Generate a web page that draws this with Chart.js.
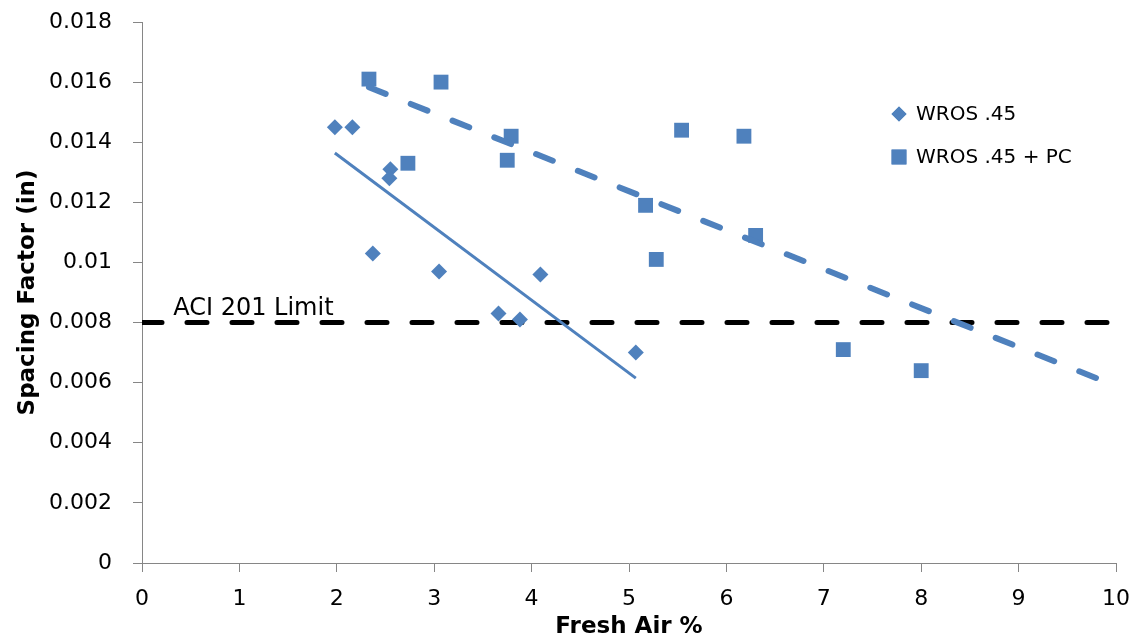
<!DOCTYPE html>
<html>
<head>
<meta charset="utf-8">
<script src="https://cdn.jsdelivr.net/npm/chart.js@4"></script>
<style>
  html, body { margin: 0; padding: 0; background: #fff; }
  #chart { display: block; }
</style>
</head>
<body>
<canvas id="chart" width="1136" height="641"></canvas>
<script>
// данные
const wrosX = [1.98, 2.16, 2.55, 2.54, 2.37, 3.05, 4.09, 3.66, 3.88, 5.07];
const wrosY = [0.0145, 0.0145, 0.0131, 0.0128, 0.0103, 0.0097, 0.0096, 0.0083, 0.0081, 0.0070];

const wrosPcX = [2.33, 3.07, 3.79, 3.75, 2.73, 5.54, 6.18, 5.17, 6.30, 5.28, 7.20, 8.00];
const wrosPcY = [0.0161, 0.0160, 0.0142, 0.0134, 0.0133, 0.0144, 0.0142, 0.0119, 0.0109, 0.0101, 0.0071, 0.0064];

// линии тренда (концы)
const wrosTrendX = [1.98, 5.07];
const wrosTrendY = [0.01364, 0.00615];
const wrosPcTrendX = [2.33, 10];
const wrosPcTrendY = [0.01583, 0.00589];

// предел ACI 201
const limitX = [0, 10];
const limitY = [0.008, 0.008];
const limitLabel = 'ACI 201 Limit';

const seriesNames = ['WROS .45', 'WROS .45 + PC'];
const xTicks = [0, 1, 2, 3, 4, 5, 6, 7, 8, 9, 10];
const yTickLabels = ['0', '0.002', '0.004', '0.006', '0.008', '0.01', '0.012', '0.014', '0.016', '0.018'];

const blue = '#4F81BD';
const axisColor = '#868686';
const fontFamily = '"DejaVu Sans", sans-serif';

const toPoints = (xs, ys) => xs.map((x, i) => ({ x, y: ys[i] }));

// подпись линии предела
const limitLabelPlugin = {
  id: 'limitLabel',
  afterDatasetsDraw(chart) {
    const { ctx, scales } = chart;
    ctx.save();
    ctx.font = `24px ${fontFamily}`;
    ctx.fillStyle = '#000';
    ctx.textBaseline = 'alphabetic';
    ctx.fillText(limitLabel, scales.x.getPixelForValue(0.32), scales.y.getPixelForValue(limitY[0]) - 8);
    ctx.restore();
  },
};

// легенда внутри области графика
const legendPlugin = {
  id: 'innerLegend',
  afterDraw(chart) {
    const { ctx } = chart;
    const styles = ['rectRot', 'rect'];
    const radii = [7.5, 10.5];
    ctx.save();
    ctx.font = `20px ${fontFamily}`;
    ctx.textBaseline = 'middle';
    seriesNames.forEach((name, i) => {
      const y = 114 + i * 43;
      ctx.fillStyle = blue;
      ctx.strokeStyle = blue;
      Chart.helpers.drawPoint(ctx, { pointStyle: styles[i], radius: radii[i], borderWidth: 0 }, 899, y);
      ctx.fill();
      ctx.fillStyle = '#000';
      ctx.fillText(name, 916, y + 1);
    });
    ctx.restore();
  },
};

new Chart(document.getElementById('chart'), {
  type: 'scatter',
  data: {
    datasets: [
      {
        label: seriesNames[0],
        data: toPoints(wrosX, wrosY),
        pointStyle: 'rectRot',
        pointRadius: 8,
        backgroundColor: blue,
        borderColor: blue,
        borderWidth: 0,
        order: 1,
      },
      {
        label: seriesNames[1],
        data: toPoints(wrosPcX, wrosPcY),
        pointStyle: 'rect',
        pointRadius: 10.5,
        backgroundColor: blue,
        borderColor: blue,
        borderWidth: 0,
        order: 2,
      },
      {
        label: 'trend1',
        data: toPoints(wrosTrendX, wrosTrendY),
        showLine: true,
        pointRadius: 0,
        borderColor: blue,
        borderWidth: 3,
        order: 3,
      },
      {
        label: 'trend2',
        data: toPoints(wrosPcTrendX, wrosPcTrendY),
        showLine: true,
        pointRadius: 0,
        borderColor: blue,
        borderWidth: 6,
        borderDash: [18, 27],
        borderCapStyle: 'round',
        order: 0,
      },
      {
        label: 'limit',
        data: toPoints(limitX, limitY),
        showLine: true,
        pointRadius: 0,
        borderColor: '#000',
        borderWidth: 5,
        borderDash: [20, 25],
        borderCapStyle: 'round',
        order: 4,
      },
    ],
  },
  options: {
    responsive: false,
    animation: false,
    layout: { padding: { top: 22, right: 20, left: 0, bottom: 0 } },
    plugins: {
      legend: { display: false },
      tooltip: { enabled: false },
    },
    scales: {
      x: {
        type: 'linear',
        min: 0,
        max: 10,
        afterFit: (scale) => {
          scale.height = 78;
          scale.paddingLeft = 0;
          scale.paddingRight = 0;
        },
        afterBuildTicks: (scale) => { scale.ticks = xTicks.map((v) => ({ value: v })); },
        border: { color: axisColor, width: 1 },
        grid: { drawOnChartArea: false, color: axisColor, tickLength: 9 },
        ticks: { color: '#000', padding: 14, font: { family: fontFamily, size: 22 } },
        title: {
          display: true,
          text: 'Fresh Air %',
          color: '#000',
          padding: { top: 0, bottom: 0 },
          font: { family: fontFamily, size: 23, weight: 'bold' },
        },
      },
      y: {
        min: 0,
        max: 0.018,
        afterFit: (scale) => {
          scale.width = 142;
          scale.paddingTop = 0;
          scale.paddingBottom = 0;
        },
        afterBuildTicks: (scale) => { scale.ticks = yTickLabels.map((t) => ({ value: Number(t) })); },
        border: { color: axisColor, width: 1 },
        grid: { drawOnChartArea: false, color: axisColor, tickLength: 9 },
        ticks: {
          color: '#000',
          padding: 21,
          font: { family: fontFamily, size: 22 },
          callback: (value, index) => yTickLabels[index],
        },
        title: {
          display: true,
          text: 'Spacing Factor (in)',
          color: '#000',
          padding: { top: 14, bottom: 0 },
          font: { family: fontFamily, size: 23, weight: 'bold' },
        },
      },
    },
  },
  plugins: [limitLabelPlugin, legendPlugin],
});
</script>
</body>
</html>
